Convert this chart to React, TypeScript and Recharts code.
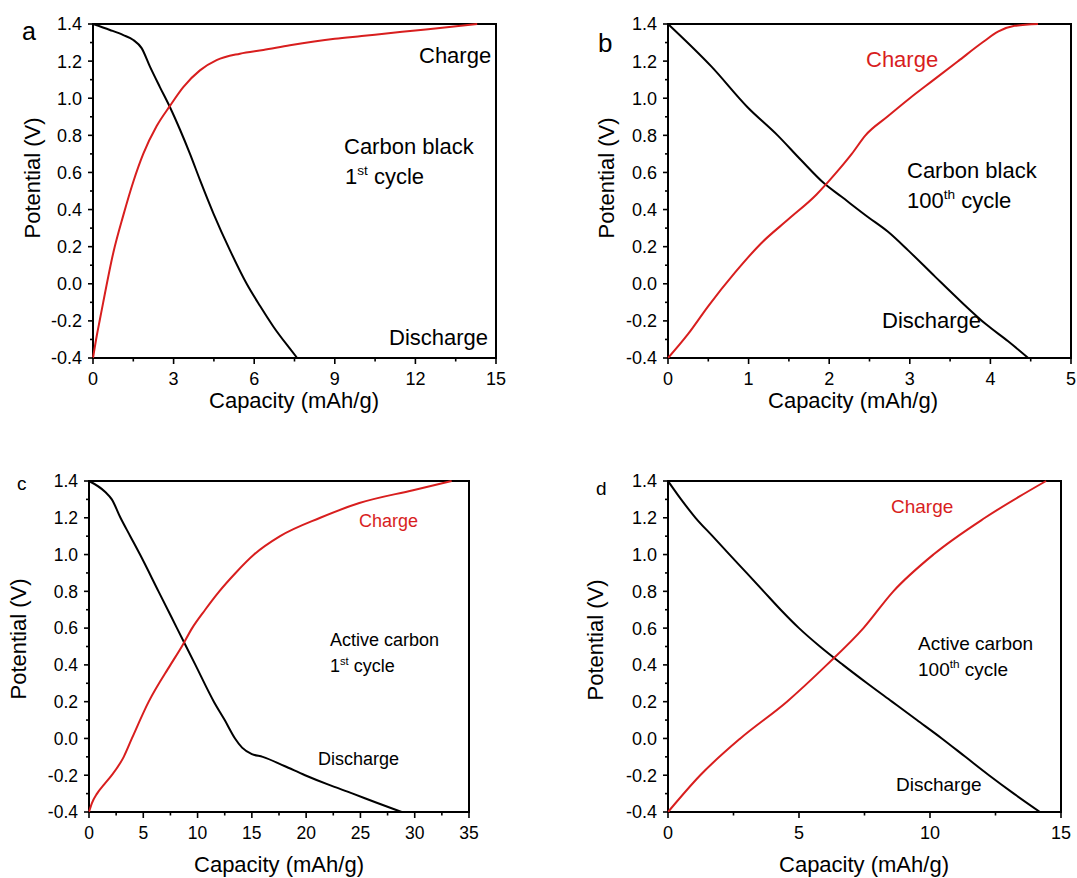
import { LineChart, Line, XAxis, YAxis, ReferenceArea } from "recharts";

type Pt = [number, number];

const RED = "#d81e1e";
const FONT = "'Liberation Sans', Arial, sans-serif";

// ── potential axis (shared by all panels) ──
const vTicks = [-0.4, -0.3, -0.2, -0.1, 0, 0.1, 0.2, 0.3, 0.4, 0.5, 0.6, 0.7, 0.8, 0.9, 1.0, 1.1, 1.2, 1.3, 1.4];

// ── a: carbon black, 1st cycle ──
const capTicksA = [0, 1.5, 3, 4.5, 6, 7.5, 9, 10.5, 12, 13.5, 15];
const chargeA: Pt[] = [
  [0, -0.4], [0.14, -0.28], [0.26, -0.19], [0.38, -0.1], [0.76, 0.17], [1.13, 0.37],
  [1.5, 0.55], [1.87, 0.7], [2.37, 0.85], [2.87, 0.96], [3.36, 1.06], [3.98, 1.15],
  [4.6, 1.205], [5.47, 1.24], [6.34, 1.26], [7.33, 1.285], [9, 1.32], [10, 1.335],
  [11, 1.35], [12, 1.365], [13, 1.38], [14.3, 1.4],
];
const dischargeA: Pt[] = [
  [0, 1.4], [0.63, 1.368], [1.13, 1.34], [1.5, 1.314], [1.81, 1.27], [2.12, 1.17], [2.49, 1.06],
  [2.87, 0.95], [3.24, 0.83], [3.61, 0.7], [3.98, 0.56], [4.48, 0.38], [5.1, 0.18], [5.72, 0.0],
  [6.22, -0.12], [6.71, -0.23], [7.33, -0.35], [7.6, -0.4],
];

// ── b: carbon black, 100th cycle ──
const capTicksB = [0, 0.5, 1, 1.5, 2, 2.5, 3, 3.5, 4, 4.5, 5];
const chargeB: Pt[] = [
  [0, -0.4], [0.25, -0.27], [0.5, -0.12], [0.83, 0.06], [1.16, 0.22], [1.5, 0.35], [1.84, 0.48],
  [2.09, 0.6], [2.28, 0.7], [2.45, 0.8], [2.72, 0.9], [3.0, 1.0], [3.3, 1.1], [3.6, 1.2],
  [3.9, 1.3], [4.1, 1.36], [4.3, 1.39], [4.59, 1.4],
];
const dischargeB: Pt[] = [
  [0, 1.4], [0.54, 1.17], [0.99, 0.95], [1.36, 0.8], [1.65, 0.667], [1.94, 0.54],
  [2.15, 0.47], [2.48, 0.36], [2.73, 0.28], [2.98, 0.18], [3.31, 0.04], [3.62, -0.09],
  [3.95, -0.22], [4.22, -0.31], [4.47, -0.4],
];

// ── c: active carbon, 1st cycle ──
const capTicksC = [0, 2.5, 5, 7.5, 10, 12.5, 15, 17.5, 20, 22.5, 25, 27.5, 30, 32.5, 35];
const chargeC: Pt[] = [
  [0, -0.4], [0.28, -0.35], [0.74, -0.3], [1.4, -0.25], [2.1, -0.2], [3.2, -0.1], [3.95, 0.0],
  [5.5, 0.2], [7.5, 0.4], [8.55, 0.5], [9.5, 0.6], [10.7, 0.7], [12.0, 0.8], [13.5, 0.9],
  [15.2, 1.0], [17.6, 1.1], [21.3, 1.2], [24.9, 1.28], [29.85, 1.35], [33.4, 1.4],
];
const dischargeC: Pt[] = [
  [0, 1.4], [1.5, 1.34], [2.1, 1.3], [2.9, 1.2], [3.8, 1.1], [4.7, 1.0], [6.4, 0.8], [8.1, 0.6],
  [9.8, 0.4], [11.5, 0.2], [12.5, 0.1], [13.45, 0.0], [14.1, -0.05], [15, -0.085], [16, -0.1],
  [18, -0.15], [19.9, -0.2], [22, -0.25], [24.3, -0.3], [26.5, -0.35], [28.8, -0.4],
];

// ── d: active carbon, 100th cycle ──
const capTicksD = [0, 2.5, 5, 7.5, 10, 12.5, 15];
const chargeD: Pt[] = [
  [0, -0.4], [1.23, -0.2], [2.76, 0.0], [4.54, 0.2], [6.06, 0.4], [7.46, 0.6], [8.6, 0.8],
  [10.13, 1.0], [12.1, 1.2], [14.43, 1.4],
];
const dischargeD: Pt[] = [
  [0, 1.4], [0.5, 1.3], [1.05, 1.2], [1.7, 1.1], [2.35, 1.0], [3.0, 0.9], [3.65, 0.8], [4.3, 0.7],
  [5.0, 0.6], [5.8, 0.5], [6.68, 0.4], [7.6, 0.3], [8.55, 0.2], [9.5, 0.1], [10.45, 0.0],
  [11.35, -0.1], [12.25, -0.2], [13.2, -0.3], [14.2, -0.4],
];

const toRows = (pts: Pt[]) => pts.map(([x, y]) => ({ x, y }));
const isOn = (v: number, step: number) => Math.abs(v / step - Math.round(v / step)) < 1e-6;

function XTick(props: any) {
  const { x, y, payload, major, fs } = props;
  const big = isOn(payload.value, major);
  return (
    <g>
      <line x1={x} x2={x} y1={y} y2={y + (big ? 6 : 3.5)} stroke="#000" strokeWidth={1.6} />
      {big && (
        <text x={x} y={y + 27} textAnchor="middle" fontSize={fs} fontFamily={FONT} fill="#000">
          {payload.value}
        </text>
      )}
    </g>
  );
}

function YTick(props: any) {
  const { x, y, payload, fs } = props;
  const big = isOn(payload.value, 0.2);
  return (
    <g>
      <line x1={x - (big ? 5 : 3)} x2={x} y1={y} y2={y} stroke="#000" strokeWidth={1.6} />
      {big && (
        <text x={x - 11} y={y + fs * 0.36} textAnchor="end" fontSize={fs} fontFamily={FONT} fill="#000">
          {payload.value.toFixed(1)}
        </text>
      )}
    </g>
  );
}

type PanelProps = {
  left: number;
  top: number;
  plotW: number;
  plotH: number;
  xMax: number;
  xTicks: number[];
  xMajor: number;
  fs: number;
  charge: Pt[];
  discharge: Pt[];
};

function Panel({ left, top, plotW, plotH, xMax, xTicks, xMajor, fs, charge, discharge }: PanelProps) {
  const ML = 62, MT = 14, MR = 14, MB = 40;
  return (
    <div style={{ position: "absolute", left: left - ML, top: top - MT }}>
      <LineChart
        width={plotW + ML + MR}
        height={plotH + MT + MB}
        margin={{ top: MT, right: MR, left: 0, bottom: 0 }}
      >
        <XAxis
          type="number"
          dataKey="x"
          domain={[0, xMax]}
          ticks={xTicks}
          interval={0}
          height={MB}
          tickSize={0}
          tickMargin={0}
          axisLine={false}
          tickLine={false}
          tick={(p: any) => <XTick {...p} major={xMajor} fs={fs} />}
        />
        <YAxis
          type="number"
          domain={[-0.4, 1.4]}
          ticks={vTicks}
          interval={0}
          width={ML}
          tickSize={0}
          tickMargin={0}
          axisLine={false}
          tickLine={false}
          tick={(p: any) => <YTick {...p} fs={fs} />}
        />
        <ReferenceArea x1={0} x2={xMax} y1={-0.4} y2={1.4} fill="none" fillOpacity={0} stroke="#000" strokeWidth={2} />
        <Line
          data={toRows(discharge)}
          dataKey="y"
          type="monotone"
          stroke="#000"
          strokeWidth={2}
          dot={false}
          isAnimationActive={false}
        />
        <Line
          data={toRows(charge)}
          dataKey="y"
          type="monotone"
          stroke={RED}
          strokeWidth={2}
          dot={false}
          isAnimationActive={false}
        />
      </LineChart>
    </div>
  );
}

function Note({ x, y, fs, color = "#000", main, sup, rest }: any) {
  return (
    <text x={x} y={y} fontSize={fs} fontFamily={FONT} fill={color}>
      {main}
      {sup && (
        <tspan fontSize={fs * 0.62} dy={-fs * 0.4}>
          {sup}
        </tspan>
      )}
      {rest && <tspan dy={sup ? fs * 0.4 : 0}>{rest}</tspan>}
    </text>
  );
}

function Titles({ xc, yBase, yx, yc }: { xc: number; yBase: number; yx: number; yc: number }) {
  return (
    <g fontFamily={FONT} fontSize={22} fill="#000">
      <text x={xc} y={yBase} textAnchor="middle">Capacity (mAh/g)</text>
      <text transform={`translate(${yx},${yc}) rotate(-90)`} textAnchor="middle" dominantBaseline="central">
        Potential (V)
      </text>
    </g>
  );
}

export default function App() {
  return (
    <div
      style={{
        position: "absolute",
        left: 0,
        top: 0,
        width: 1077,
        height: 878,
        overflow: "hidden",
        background: "#fff",
      }}
    >
      <Panel left={93} top={24} plotW={403} plotH={334} xMax={15} xTicks={capTicksA} xMajor={3} fs={18} charge={chargeA} discharge={dischargeA} />
      <Panel left={668} top={24} plotW={403} plotH={334} xMax={5} xTicks={capTicksB} xMajor={1} fs={18} charge={chargeB} discharge={dischargeB} />
      <Panel left={89} top={481} plotW={380} plotH={331} xMax={35} xTicks={capTicksC} xMajor={5} fs={17.5} charge={chargeC} discharge={dischargeC} />
      <Panel left={668} top={481} plotW={393} plotH={331} xMax={15} xTicks={capTicksD} xMajor={5} fs={18} charge={chargeD} discharge={dischargeD} />

      <svg width={1077} height={878} style={{ position: "absolute", left: 0, top: 0, pointerEvents: "none" }}>
        {/* panel letters */}
        <g fontFamily={FONT} fill="#000">
          <text x={22} y={40} fontSize={25}>a</text>
          <text x={598} y={52} fontSize={26}>b</text>
          <text x={17} y={490} fontSize={19}>c</text>
          <text x={596} y={495} fontSize={19}>d</text>
        </g>

        <Titles xc={294} yBase={408} yx={32} yc={178} />
        <Titles xc={853} yBase={408} yx={606} yc={178} />
        <Titles xc={279} yBase={872} yx={18} yc={639} />
        <Titles xc={864} yBase={872} yx={595} yc={640} />

        {/* a */}
        <Note x={419} y={63} fs={22} main="Charge" />
        <Note x={344} y={154} fs={22} main="Carbon black" />
        <Note x={345} y={184} fs={22} main="1" sup="st" rest=" cycle" />
        <Note x={389} y={345} fs={22} main="Discharge" />

        {/* b */}
        <Note x={866} y={67} fs={22} color={RED} main="Charge" />
        <Note x={907} y={178} fs={22} main="Carbon black" />
        <Note x={907} y={208} fs={22} main="100" sup="th" rest=" cycle" />
        <Note x={882} y={328} fs={22} main="Discharge" />

        {/* c */}
        <Note x={359} y={527} fs={18} color={RED} main="Charge" />
        <Note x={330} y={646} fs={18} main="Active carbon" />
        <Note x={330} y={672} fs={18} main="1" sup="st" rest=" cycle" />
        <Note x={318} y={765} fs={18} main="Discharge" />

        {/* d */}
        <Note x={891} y={513} fs={19} color={RED} main="Charge" />
        <Note x={918} y={650} fs={19} main="Active carbon" />
        <Note x={918} y={676} fs={19} main="100" sup="th" rest=" cycle" />
        <Note x={896} y={791} fs={19} main="Discharge" />
      </svg>
    </div>
  );
}
